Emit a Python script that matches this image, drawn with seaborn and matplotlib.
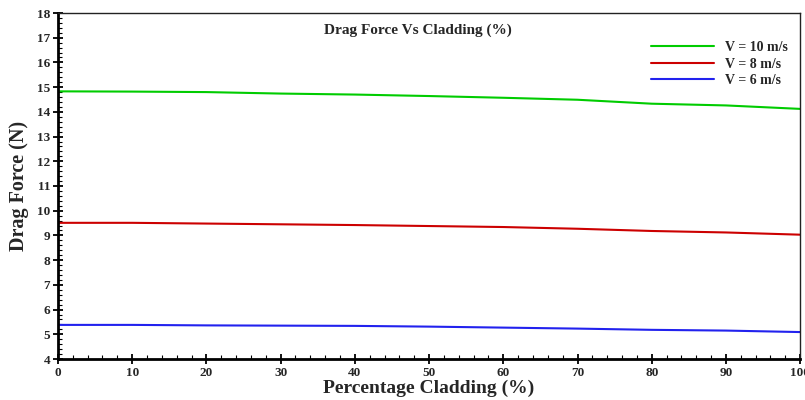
import numpy as np
import pandas as pd
import matplotlib
matplotlib.use("Agg")
import matplotlib.pyplot as plt
import seaborn as sns
from matplotlib.ticker import MultipleLocator

cladding = [0, 10, 20, 30, 40, 50, 60, 70, 80, 90, 100]

v10 = [14.83, 14.82, 14.80, 14.74, 14.70, 14.64, 14.57, 14.49, 14.33, 14.26, 14.12]
v8 = [9.51, 9.51, 9.48, 9.45, 9.42, 9.38, 9.34, 9.27, 9.18, 9.12, 9.03]
v6 = [5.38, 5.38, 5.36, 5.35, 5.34, 5.31, 5.27, 5.23, 5.18, 5.15, 5.09]

series_names = ["V = 10 m/s", "V = 8 m/s", "V = 6 m/s"]
colors = ["#00cc00", "#cc0000", "#2222ee"]

df = pd.DataFrame({
    "Cladding": cladding * 3,
    "Force": v10 + v8 + v6,
    "Series": [series_names[0]] * 11 + [series_names[1]] * 11 + [series_names[2]] * 11,
})

sns.set_style("white")
plt.rcParams["font.family"] = ["Liberation Serif", "DejaVu Serif"]
plt.rcParams["font.weight"] = "bold"

fig = plt.figure(figsize=(8.05, 4.0), dpi=100)
ax = fig.add_axes([0.072, 0.1025, 0.922, 0.865])

sns.lineplot(
    data=df,
    x="Cladding",
    y="Force",
    hue="Series",
    palette=colors,
    linewidth=1.5,
    ax=ax
)

ax.set_xlim(0, 100)
ax.set_ylim(4, 18)
ax.xaxis.set_major_locator(MultipleLocator(10))
ax.xaxis.set_minor_locator(MultipleLocator(2))
ax.yaxis.set_major_locator(MultipleLocator(1))
ax.yaxis.set_minor_locator(MultipleLocator(0.2))

ax.tick_params(axis="both", which="major", direction="inout", length=7, width=1.3,
               labelsize=9.5, color="black", bottom=True, left=True, pad=2)
ax.tick_params(axis="both", which="minor", direction="in", length=3, width=0.8,
               color="black", bottom=True, left=True)

for lab in ax.get_xticklabels() + ax.get_yticklabels():
    lab.set_fontweight("bold")

for side in ["top", "right"]:
    ax.spines[side].set_linewidth(1.0)
    ax.spines[side].set_color("#222222")
for side in ["left", "bottom"]:
    ax.spines[side].set_linewidth(2.0)
    ax.spines[side].set_color("black")

ax.set_xlabel("Percentage Cladding (%)", fontsize=14, fontweight="bold", labelpad=1)
ax.set_ylabel("Drag Force (N)", fontsize=14.5, fontweight="bold", labelpad=6)

ax.text(0.485, 0.95, "Drag Force Vs Cladding (%)", transform=ax.transAxes,
        ha="center", va="center", fontsize=11, fontweight="bold")

ax.legend(
    title=None,
    frameon=False,
    loc="upper right",
    bbox_to_anchor=(1.0, 0.955),
    handlelength=4.5,
    handletextpad=0.8,
    labelspacing=0.25,
    prop={"weight": "bold", "size": 10}
)

plt.savefig("out.png", dpi=100)
